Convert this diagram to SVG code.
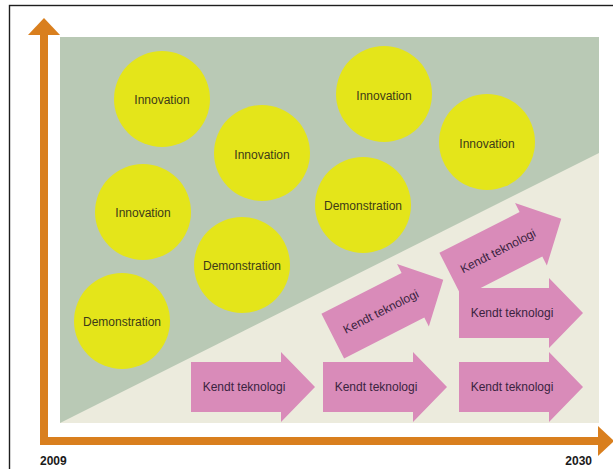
<svg xmlns="http://www.w3.org/2000/svg" width="613" height="469" viewBox="0 0 613 469">
  <defs>
    <style>
      .circ { fill: #e4e51a; }
      .ctext { font-family: "Liberation Sans", Arial, sans-serif; font-size: 12px; fill: #3d3a18; text-anchor: middle; dominant-baseline: central; }
      .arrow { fill: #d98bb9; }
      .atext { font-family: "Liberation Sans", Arial, sans-serif; font-size: 12px; fill: #3a2340; text-anchor: middle; dominant-baseline: central; }
      .axis { fill: #d97f1e; }
      .year { font-family: "Liberation Sans", Arial, sans-serif; font-size: 12px; font-weight: bold; fill: #1a1a1a; }
    </style>
    <path id="arr" d="M-62,-25 H28 V-35 L62,0 L28,35 V25 H-62 Z"/>
  </defs>

  <rect x="0" y="0" width="613" height="469" fill="#ffffff"/>
  <rect x="9.5" y="5.5" width="620" height="480" fill="none" stroke="#1e1e1e" stroke-width="1.4"/>

  <!-- background panel -->
  <rect x="60" y="37" width="539" height="386" fill="#b9c9b5"/>
  <polygon points="60,423 599,153 599,423" fill="#ecebdd"/>

  <!-- axes -->
  <g id="axes">
    <rect class="axis" x="40" y="34" width="8" height="411"/>
    <polygon class="axis" points="44,18 60,35 28,35"/>
    <rect class="axis" x="40" y="437" width="559" height="8"/>
    <polygon class="axis" points="598,426 614,441 598,456"/>
    <text class="year" x="40" y="465">2009</text>
    <text class="year" x="592" y="465" text-anchor="end">2030</text>
  </g>

  <!-- circles -->
  <g id="c1"><circle class="circ" cx="162" cy="99" r="48"/><text class="ctext" x="162" y="100">Innovation</text></g>
  <g id="c2"><circle class="circ" cx="262" cy="153" r="48"/><text class="ctext" x="262" y="155">Innovation</text></g>
  <g id="c3"><circle class="circ" cx="384" cy="94" r="48"/><text class="ctext" x="384" y="96">Innovation</text></g>
  <g id="c4"><circle class="circ" cx="487" cy="142" r="48"/><text class="ctext" x="487" y="144">Innovation</text></g>
  <g id="c5"><circle class="circ" cx="143" cy="212" r="48"/><text class="ctext" x="143" y="213">Innovation</text></g>
  <g id="c6"><circle class="circ" cx="363" cy="205" r="48"/><text class="ctext" x="363" y="206">Demonstration</text></g>
  <g id="c7"><circle class="circ" cx="242" cy="265" r="48"/><text class="ctext" x="242" y="266">Demonstration</text></g>
  <g id="c8"><circle class="circ" cx="122" cy="321" r="48"/><text class="ctext" x="122" y="322">Demonstration</text></g>

  <!-- arrows -->
  <g id="a1" transform="translate(253,387)"><use href="#arr" class="arrow"/><text class="atext" x="-9" y="0">Kendt teknologi</text></g>
  <g id="a2" transform="translate(385,387)"><use href="#arr" class="arrow"/><text class="atext" x="-9" y="0">Kendt teknologi</text></g>
  <g id="a3" transform="translate(521,387)"><use href="#arr" class="arrow"/><text class="atext" x="-9" y="0">Kendt teknologi</text></g>
  <g id="a5" transform="translate(388,308) rotate(-27)"><use href="#arr" class="arrow"/><text class="atext" x="-8" y="0">Kendt teknologi</text></g>
  <g id="a6" transform="translate(506,247) rotate(-27)"><use href="#arr" class="arrow"/><text class="atext" x="-9" y="0">Kendt teknologi</text></g>
  <g id="a4" transform="translate(521,313)"><use href="#arr" class="arrow"/><text class="atext" x="-9" y="0">Kendt teknologi</text></g>
</svg>
